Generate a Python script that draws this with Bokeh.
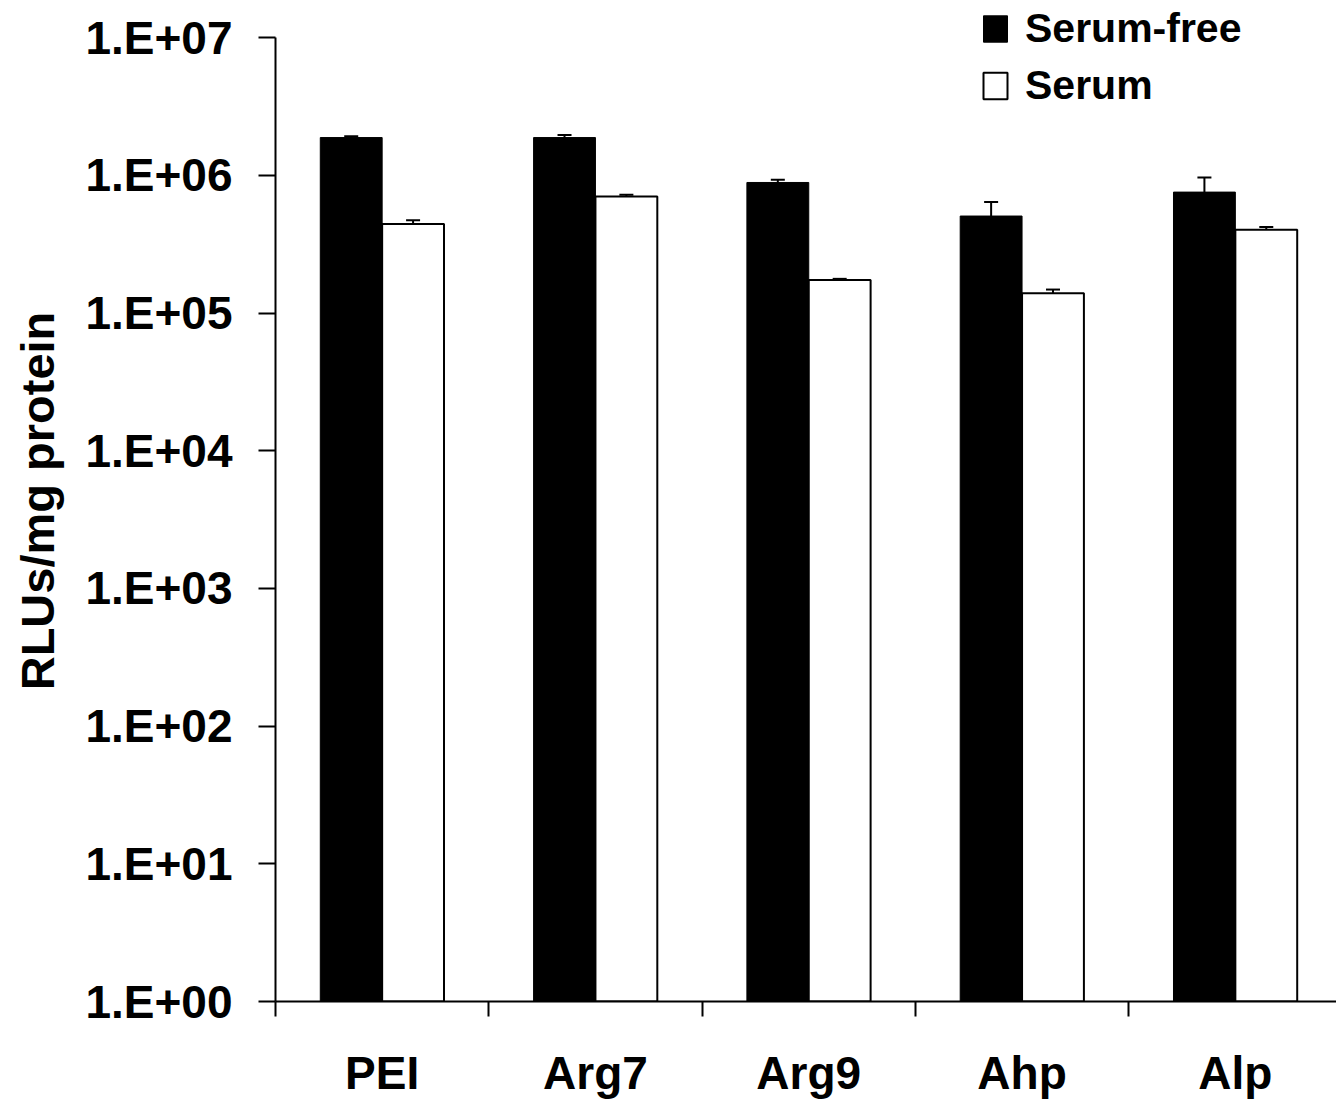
import numpy as np
from bokeh.plotting import figure
from bokeh.models import (ColumnDataSource, FixedTicker, Whisker, TeeHead,
                          Legend, LegendItem, Range1d)
from bokeh.embed import file_html
from bokeh.resources import INLINE

# Luciferase expression per carrier, with and without serum
categories = ["PEI", "Arg7", "Arg9", "Ahp", "Alp"]
serum_free = [1.88e6, 1.88e6, 8.87e5, 5.06e5, 7.55e5]
serum_free_err = [4.0e4, 8.0e4, 4.0e4, 1.34e5, 2.09e5]
serum = [4.43e5, 7.02e5, 1.74e5, 1.39e5, 4.02e5]
serum_err = [2.8e4, 2.0e4, 3.0e3, 9.0e3, 2.0e4]
series_labels = ["Serum-free", "Serum"]

y_ticks = [1, 10, 100, 1000, 10000, 100000, 1000000, 10000000]
y_tick_labels = ["1.E+00", "1.E+01", "1.E+02", "1.E+03",
                 "1.E+04", "1.E+05", "1.E+06", "1.E+07"]
y_title = "RLUs/mg protein"

FONT = "Liberation Sans"
BAR_W = 0.29
OFFSET = 0.145

centers = np.arange(len(categories)) + 0.5
boundaries = list(np.arange(len(categories) + 1).astype(float))

src_free = ColumnDataSource(dict(
    x=centers - OFFSET, top=serum_free,
    upper=np.array(serum_free) + np.array(serum_free_err),
    lower=np.array(serum_free) - np.array(serum_free_err)))
src_serum = ColumnDataSource(dict(
    x=centers + OFFSET, top=serum,
    upper=np.array(serum) + np.array(serum_err),
    lower=np.array(serum) - np.array(serum_err)))

p = figure(width=1336, height=1100, frame_width=1061, frame_height=1001,
           y_axis_type="log", output_backend="svg", toolbar_location=None,
           min_border_left=275, min_border_right=0, min_border_top=0,
           min_border_bottom=99)
p.x_range = Range1d(0, 1061 / 213.3)
p.y_range = Range1d(1, 10 ** (1001 / 137.7))

p.outline_line_color = None
p.xgrid.visible = False
p.ygrid.visible = False
p.background_fill_color = "white"
p.border_fill_color = "white"

r_free = p.vbar(x="x", top="top", bottom=1, width=BAR_W, source=src_free,
                fill_color="black", line_color="black", line_width=1)
r_serum = p.vbar(x="x", top="top", bottom=1, width=BAR_W, source=src_serum,
                 fill_color="white", line_color="black", line_width=2)

for src in (src_free, src_serum):
    w = Whisker(base="x", upper="upper", lower="lower", source=src,
                line_color="black", line_width=2,
                upper_head=TeeHead(size=14, line_width=2, line_color="black"),
                lower_head=TeeHead(size=14, line_width=2, line_color="black"))
    p.add_layout(w)

# y axis
ya = p.yaxis[0]
ya.ticker = FixedTicker(ticks=y_ticks, minor_ticks=[])
ya.major_label_overrides = dict(zip(y_ticks, y_tick_labels))
ya.bounds = (y_ticks[0], y_ticks[-1])
ya.axis_line_width = 2
ya.major_tick_line_width = 2
ya.major_tick_out = 17
ya.major_tick_in = 0
ya.minor_tick_line_color = None
ya.major_label_standoff = 26
ya.major_label_text_font = FONT
ya.major_label_text_font_style = "bold"
ya.major_label_text_font_size = "46px"
ya.major_label_text_color = "black"
ya.axis_label = y_title
ya.axis_label_text_font = FONT
ya.axis_label_text_font_style = "bold"
ya.axis_label_text_font_size = "47px"
ya.axis_label_text_color = "black"
ya.axis_label_standoff = 18

# x axis: labels at group centres, ticks at group boundaries
xa = p.xaxis[0]
xa.ticker = FixedTicker(ticks=list(centers), minor_ticks=boundaries)
xa.major_label_overrides = dict(zip(list(centers), categories))
xa.axis_line_width = 2
xa.major_tick_out = 0
xa.major_tick_in = 0
xa.major_tick_line_color = None
xa.minor_tick_out = 15
xa.minor_tick_in = 0
xa.minor_tick_line_width = 2
xa.minor_tick_line_color = "black"
xa.major_label_standoff = 30
xa.major_label_text_font = FONT
xa.major_label_text_font_style = "bold"
xa.major_label_text_font_size = "46px"
xa.major_label_text_color = "black"

legend = Legend(items=[LegendItem(label=series_labels[0], renderers=[r_free]),
                       LegendItem(label=series_labels[1], renderers=[r_serum])],
                location=(705, 892), padding=0, margin=0, spacing=10,
                glyph_width=30, glyph_height=33, label_height=26,
                label_standoff=15, border_line_color=None,
                background_fill_alpha=0,
                label_text_font=FONT, label_text_font_style="bold",
                label_text_font_size="41px", label_text_color="black")
p.add_layout(legend)

open("out.html", "w").write(file_html(p, INLINE))
